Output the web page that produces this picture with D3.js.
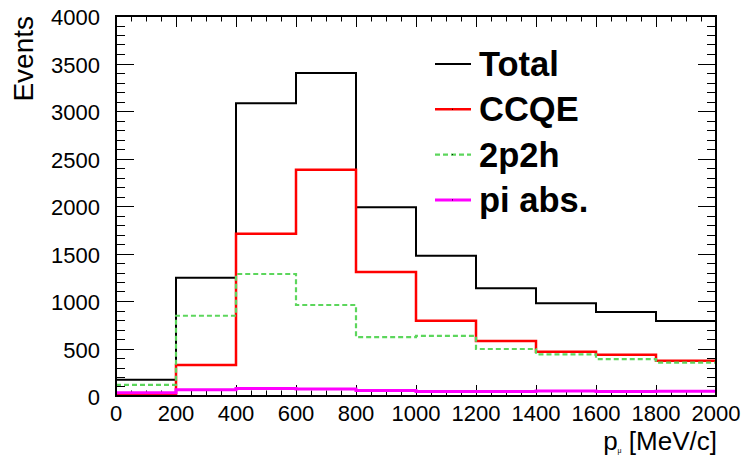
<!DOCTYPE html>
<html>
<head>
<meta charset="utf-8">
<script src="https://cdn.jsdelivr.net/npm/d3@7"></script>
<style>
  body { margin: 0; background: #fff; }
  text { font-family: "Liberation Sans", Arial, sans-serif; }
</style>
</head>
<body>
<div id="chart"></div>
<script>
// bin edges in MeV/c
var binEdges = [0, 200, 400, 600, 800, 1000, 1200, 1400, 1600, 1800, 2000];

// events per bin
var totalVals = [170, 1245, 3081, 3400, 1988, 1477, 1134, 976, 884, 789];
var ccqeVals  = [15, 326, 1708, 2382, 1305, 793, 579, 467, 435, 372];
var twoP2hVals = [118, 845, 1284, 958, 620, 633, 495, 439, 389, 351];
var piAbsVals = [35, 65, 80, 75, 58, 48, 48, 52, 47, 50];

var seriesNames = ["Total", "CCQE", "2p2h", "pi abs."];
var xTickLabels = [0, 200, 400, 600, 800, 1000, 1200, 1400, 1600, 1800, 2000];
var yTickLabels = [0, 500, 1000, 1500, 2000, 2500, 3000, 3500, 4000];

(function () {
  var W = 744, H = 461;
  var margin = { top: 16, right: 28, bottom: 65, left: 116 };
  var width = W - margin.left - margin.right,
      height = H - margin.top - margin.bottom;

  var svg = d3.select('#chart')
    .append('svg')
    .attr('width', W)
    .attr('height', H);

  var x = d3.scaleLinear().domain([0, 2000]).range([margin.left, margin.left + width]);
  var y = d3.scaleLinear().domain([0, 4000]).range([margin.top + height, margin.top]);

  var g = svg.append('g');

  // ticks (major + minor), all four sides like ROOT
  var ticks = g.append('g').attr('stroke', '#000').attr('stroke-width', 1);
  d3.range(0, 2001, 50).forEach(function (v) {
    var len = v % 200 === 0 ? 11 : 5.5;
    var px = Math.round(x(v)) + 0.5;
    ticks.append('line').attr('x1', px).attr('x2', px)
      .attr('y1', y(0)).attr('y2', y(0) - len);
    ticks.append('line').attr('x1', px).attr('x2', px)
      .attr('y1', y(4000)).attr('y2', y(4000) + len);
  });
  d3.range(0, 4001, 100).forEach(function (v) {
    var len = v % 500 === 0 ? 18 : 9;
    var py = Math.round(y(v)) + 0.5;
    ticks.append('line').attr('y1', py).attr('y2', py)
      .attr('x1', x(0)).attr('x2', x(0) + len);
    ticks.append('line').attr('y1', py).attr('y2', py)
      .attr('x1', x(2000)).attr('x2', x(2000) - len);
  });

  // histograms
  function stepPath(vals) {
    var pts = [];
    vals.forEach(function (v, i) {
      pts.push([x(binEdges[i]), y(v)]);
      pts.push([x(binEdges[i + 1]), y(v)]);
    });
    return d3.line()(pts);
  }

  var styles = [
    { vals: totalVals, color: '#000000', w: 2, dash: null },
    { vals: ccqeVals, color: '#ff0000', w: 2.5, dash: null },
    { vals: twoP2hVals, color: '#5cd65c', w: 2.2, dash: '5,3' },
    { vals: piAbsVals, color: '#ff00ff', w: 3, dash: null }
  ];

  styles.forEach(function (s) {
    g.append('path')
      .attr('d', stepPath(s.vals))
      .attr('fill', 'none')
      .attr('stroke', s.color)
      .attr('stroke-width', s.w)
      .attr('stroke-dasharray', s.dash);
  });

  // frame
  g.append('rect')
    .attr('x', x(0)).attr('y', y(4000))
    .attr('width', x(2000) - x(0)).attr('height', y(0) - y(4000))
    .attr('fill', 'none').attr('stroke', '#000').attr('stroke-width', 2);

  // tick labels
  g.selectAll('.xl').data(xTickLabels).enter().append('text')
    .attr('x', function (d) { return x(d); })
    .attr('y', 421)
    .attr('text-anchor', 'middle')
    .attr('font-size', 22)
    .text(function (d) { return d; });

  g.selectAll('.yl').data(yTickLabels).enter().append('text')
    .attr('x', 100)
    .attr('y', function (d) { return y(d) + 9; })
    .attr('text-anchor', 'end')
    .attr('font-size', 22)
    .text(function (d) { return d; });

  // axis titles
  svg.append('text')
    .attr('transform', 'translate(33,16) rotate(-90)')
    .attr('text-anchor', 'end')
    .attr('font-size', 28)
    .text('Events');

  var xt = svg.append('text')
    .attr('x', 717).attr('y', 450)
    .attr('text-anchor', 'end')
    .attr('font-size', 26);
  xt.append('tspan').text('p');
  xt.append('tspan').attr('font-size', 7).attr('dy', 3).text('μ');
  xt.append('tspan').attr('dy', -3).text('  [MeV/c]');

  // legend
  var leg = svg.append('g');
  seriesNames.forEach(function (name, i) {
    var ly = 64 + i * 45.3;
    var s = styles[i];
    leg.append('line')
      .attr('x1', 435).attr('x2', 471)
      .attr('y1', ly).attr('y2', ly)
      .attr('stroke', s.color)
      .attr('stroke-width', s.w)
      .attr('stroke-dasharray', s.dash);
    if (i > 0) {
      leg.append('rect').attr('x', 452).attr('y', ly - 0.5)
        .attr('width', 1).attr('height', 1).attr('fill', '#000');
    }
    leg.append('text')
      .attr('x', 479).attr('y', ly + 12)
      .attr('font-size', 34.5)
      .attr('font-weight', 'bold')
      .text(name);
  });
})();
</script>
</body>
</html>
